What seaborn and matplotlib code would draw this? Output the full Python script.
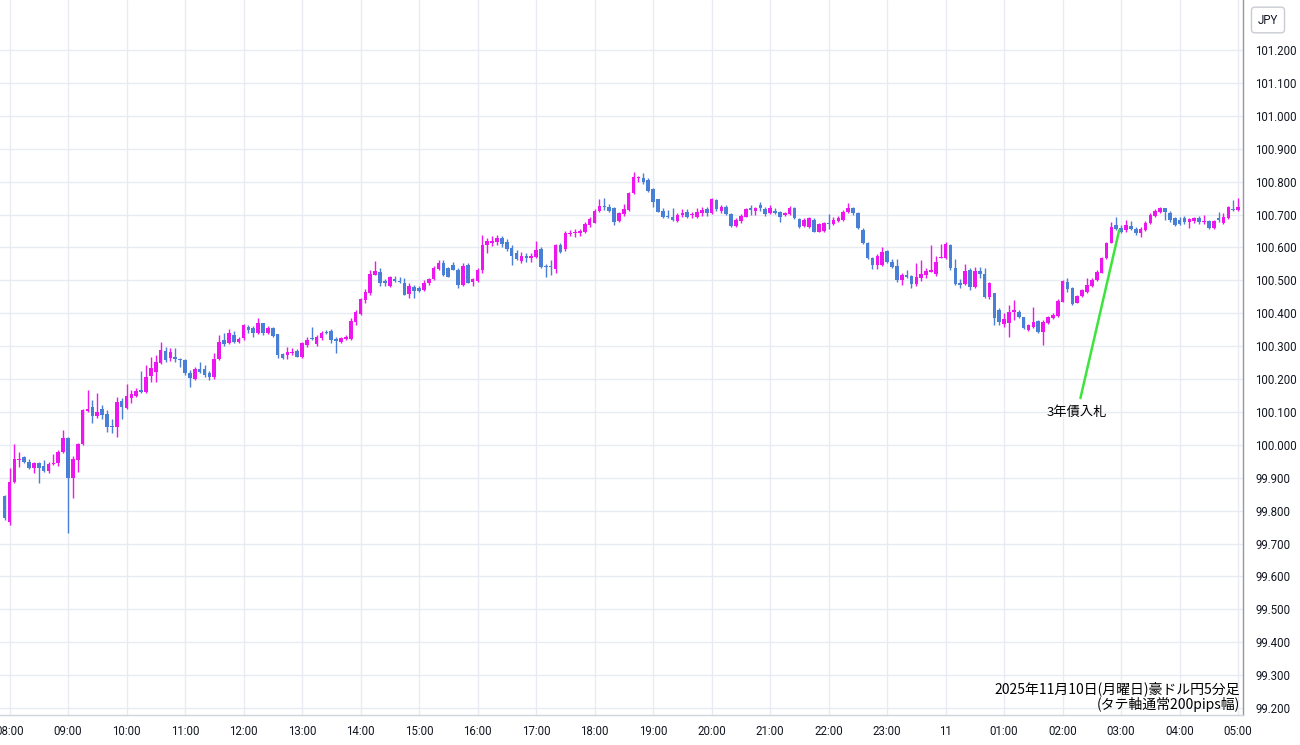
import matplotlib
matplotlib.use("Agg")
import matplotlib.pyplot as plt
import seaborn as sns
import numpy as np
import pandas as pd

# ---- data: AUD/JPY 5-minute candles, 2025-11-10 07:55 -> 2025-11-11 05:00 ----
open_ = [
    99.844, 99.766, 99.887, 99.954, 99.963, 99.948, 99.93, 99.945, 99.936, 99.92,
    99.942, 99.946, 99.978, 100.02, 99.9, 99.955, 100.003, 100.103, 100.115, 100.088,
    100.108, 100.094, 100.058, 100.055, 100.133, 100.112, 100.142, 100.148, 100.167, 100.16,
    100.209, 100.221, 100.249, 100.285, 100.264, 100.266, 100.261, 100.258, 100.218, 100.2,
    100.23, 100.23, 100.218, 100.206, 100.261, 100.318, 100.309, 100.334, 100.312, 100.325,
    100.358, 100.355, 100.34, 100.37, 100.34, 100.355, 100.337, 100.276, 100.273, 100.279,
    100.285, 100.267, 100.303, 100.324, 100.306, 100.325, 100.343, 100.346, 100.322, 100.313,
    100.322, 100.322, 100.373, 100.398, 100.44, 100.461, 100.516, 100.525, 100.498, 100.483,
    100.504, 100.498, 100.492, 100.458, 100.48, 100.477, 100.47, 100.492, 100.504, 100.534,
    100.552, 100.537, 100.546, 100.531, 100.486, 100.546, 100.495, 100.498, 100.531, 100.607,
    100.613, 100.616, 100.628, 100.616, 100.598, 100.583, 100.559, 100.572, 100.569, 100.571,
    100.595, 100.543, 100.543, 100.534, 100.607, 100.595, 100.641, 100.644, 100.644, 100.647,
    100.668, 100.674, 100.711, 100.726, 100.723, 100.72, 100.68, 100.701, 100.714, 100.765,
    100.81, 100.811, 100.805, 100.778, 100.747, 100.711, 100.695, 100.692, 100.68, 100.698,
    100.707, 100.698, 100.692, 100.704, 100.717, 100.704, 100.744, 100.711, 100.723, 100.701,
    100.665, 100.68, 100.692, 100.72, 100.711, 100.729, 100.717, 100.704, 100.711, 100.707,
    100.698, 100.701, 100.72, 100.686, 100.665, 100.662, 100.683, 100.647, 100.65, 100.674,
    100.671, 100.68, 100.683, 100.707, 100.72, 100.704, 100.653, 100.613, 100.568, 100.546,
    100.546, 100.589, 100.556, 100.543, 100.501, 100.516, 100.513, 100.489, 100.507, 100.516,
    100.525, 100.519, 100.568, 100.568, 100.607, 100.537, 100.492, 100.489, 100.531, 100.48,
    100.528, 100.519, 100.449, 100.461, 100.41, 100.367, 100.37, 100.403, 100.404, 100.388,
    100.349, 100.358, 100.376, 100.343, 100.37, 100.386, 100.392, 100.434, 100.495, 100.477,
    100.431, 100.452, 100.464, 100.483, 100.501, 100.522, 100.568, 100.613, 100.668, 100.659,
    100.653, 100.665, 100.656, 100.644, 100.653, 100.674, 100.695, 100.708, 100.72, 100.704,
    100.689, 100.683, 100.689, 100.677, 100.68, 100.689, 100.677, 100.68, 100.659, 100.689,
    100.674, 100.689, 100.717, 100.714,
]
high_ = [
    99.847, 99.93, 100.002, 99.978, 99.966, 99.957, 99.947, 99.947, 99.954, 99.947,
    99.972, 99.984, 100.045, 100.025, 99.966, 100.005, 100.108, 100.166, 100.136, 100.157,
    100.121, 100.106, 100.078, 100.145, 100.142, 100.185, 100.167, 100.172, 100.224, 100.243,
    100.267, 100.273, 100.312, 100.297, 100.294, 100.294, 100.264, 100.26, 100.227, 100.236,
    100.252, 100.243, 100.224, 100.279, 100.334, 100.34, 100.352, 100.346, 100.328, 100.367,
    100.364, 100.361, 100.385, 100.37, 100.361, 100.358, 100.337, 100.279, 100.297, 100.294,
    100.291, 100.312, 100.328, 100.358, 100.334, 100.346, 100.349, 100.352, 100.328, 100.328,
    100.334, 100.385, 100.41, 100.446, 100.474, 100.531, 100.559, 100.537, 100.504, 100.513,
    100.513, 100.51, 100.507, 100.492, 100.486, 100.483, 100.501, 100.507, 100.544, 100.562,
    100.562, 100.54, 100.556, 100.537, 100.553, 100.553, 100.507, 100.537, 100.638, 100.628,
    100.634, 100.638, 100.634, 100.625, 100.607, 100.592, 100.586, 100.583, 100.583, 100.619,
    100.601, 100.549, 100.562, 100.61, 100.613, 100.65, 100.653, 100.656, 100.656, 100.677,
    100.692, 100.717, 100.747, 100.75, 100.732, 100.723, 100.707, 100.732, 100.768, 100.829,
    100.817, 100.826, 100.811, 100.781, 100.747, 100.72, 100.714, 100.72, 100.704, 100.717,
    100.717, 100.707, 100.72, 100.723, 100.723, 100.75, 100.747, 100.729, 100.729, 100.704,
    100.689, 100.701, 100.72, 100.729, 100.723, 100.738, 100.723, 100.729, 100.72, 100.711,
    100.707, 100.726, 100.723, 100.689, 100.689, 100.692, 100.689, 100.674, 100.677, 100.701,
    100.692, 100.695, 100.714, 100.735, 100.723, 100.707, 100.659, 100.616, 100.571, 100.58,
    100.601, 100.592, 100.565, 100.565, 100.522, 100.531, 100.516, 100.553, 100.562, 100.537,
    100.607, 100.574, 100.61, 100.616, 100.61, 100.565, 100.504, 100.55, 100.537, 100.54,
    100.54, 100.537, 100.495, 100.461, 100.416, 100.4, 100.425, 100.44, 100.41, 100.388,
    100.367, 100.419, 100.379, 100.379, 100.392, 100.401, 100.443, 100.501, 100.507, 100.48,
    100.455, 100.474, 100.507, 100.507, 100.531, 100.571, 100.616, 100.677, 100.692, 100.668,
    100.683, 100.68, 100.662, 100.662, 100.68, 100.704, 100.717, 100.723, 100.72, 100.71,
    100.692, 100.692, 100.695, 100.689, 100.692, 100.695, 100.698, 100.683, 100.683, 100.707,
    100.704, 100.726, 100.744, 100.75,
]
low_ = [
    99.771, 99.756, 99.885, 99.932, 99.945, 99.927, 99.915, 99.884, 99.917, 99.915,
    99.939, 99.935, 99.976, 99.732, 99.838, 99.917, 100.0, 100.1, 100.066, 100.082,
    100.08, 100.039, 100.036, 100.024, 100.08, 100.109, 100.127, 100.145, 100.157, 100.157,
    100.19, 100.19, 100.247, 100.252, 100.255, 100.252, 100.237, 100.212, 100.176, 100.197,
    100.218, 100.206, 100.197, 100.2, 100.258, 100.3, 100.306, 100.31, 100.31, 100.318,
    100.34, 100.328, 100.337, 100.334, 100.337, 100.328, 100.264, 100.26, 100.26, 100.273,
    100.267, 100.264, 100.297, 100.318, 100.3, 100.319, 100.337, 100.309, 100.279, 100.31,
    100.319, 100.319, 100.364, 100.395, 100.431, 100.455, 100.516, 100.483, 100.483, 100.48,
    100.495, 100.492, 100.455, 100.446, 100.446, 100.464, 100.467, 100.486, 100.501, 100.531,
    100.513, 100.51, 100.531, 100.477, 100.483, 100.492, 100.483, 100.495, 100.522, 100.583,
    100.604, 100.607, 100.601, 100.589, 100.546, 100.562, 100.553, 100.556, 100.556, 100.568,
    100.537, 100.51, 100.516, 100.522, 100.583, 100.589, 100.634, 100.631, 100.634, 100.644,
    100.662, 100.674, 100.708, 100.714, 100.708, 100.668, 100.677, 100.695, 100.711, 100.762,
    100.8, 100.793, 100.768, 100.723, 100.708, 100.689, 100.689, 100.68, 100.677, 100.692,
    100.689, 100.689, 100.689, 100.695, 100.695, 100.701, 100.711, 100.704, 100.698, 100.662,
    100.662, 100.674, 100.692, 100.698, 100.698, 100.711, 100.695, 100.701, 100.701, 100.677,
    100.695, 100.698, 100.686, 100.659, 100.662, 100.659, 100.647, 100.647, 100.647, 100.656,
    100.668, 100.677, 100.68, 100.704, 100.698, 100.656, 100.61, 100.565, 100.534, 100.534,
    100.543, 100.553, 100.537, 100.495, 100.486, 100.507, 100.477, 100.483, 100.498, 100.507,
    100.525, 100.513, 100.568, 100.565, 100.531, 100.486, 100.477, 100.486, 100.471, 100.477,
    100.507, 100.446, 100.443, 100.364, 100.364, 100.358, 100.328, 100.379, 100.385, 100.352,
    100.346, 100.355, 100.34, 100.303, 100.367, 100.382, 100.389, 100.434, 100.464, 100.425,
    100.431, 100.449, 100.461, 100.48, 100.498, 100.522, 100.565, 100.613, 100.653, 100.644,
    100.647, 100.653, 100.638, 100.632, 100.65, 100.671, 100.692, 100.705, 100.683, 100.677,
    100.665, 100.668, 100.671, 100.659, 100.674, 100.671, 100.671, 100.656, 100.656, 100.677,
    100.671, 100.686, 100.711, 100.711,
]
close_ = [
    99.778, 99.887, 99.957, 99.958, 99.948, 99.93, 99.945, 99.93, 99.92, 99.942,
    99.946, 99.978, 100.02, 99.9, 99.957, 100.003, 100.106, 100.11, 100.088, 100.1,
    100.09, 100.054, 100.055, 100.13, 100.115, 100.15, 100.155, 100.163, 100.16, 100.206,
    100.233, 100.252, 100.288, 100.258, 100.282, 100.262, 100.258, 100.218, 100.203, 100.23,
    100.221, 100.212, 100.206, 100.261, 100.312, 100.306, 100.34, 100.312, 100.322, 100.364,
    100.349, 100.34, 100.37, 100.34, 100.355, 100.33, 100.273, 100.264, 100.282, 100.282,
    100.267, 100.309, 100.318, 100.321, 100.328, 100.34, 100.34, 100.318, 100.315, 100.325,
    100.328, 100.376, 100.404, 100.443, 100.465, 100.519, 100.528, 100.492, 100.492, 100.51,
    100.498, 100.495, 100.455, 100.483, 100.468, 100.468, 100.492, 100.504, 100.538, 100.552,
    100.516, 100.51, 100.531, 100.486, 100.543, 100.492, 100.504, 100.531, 100.607, 100.619,
    100.619, 100.628, 100.61, 100.595, 100.574, 100.565, 100.574, 100.569, 100.574, 100.592,
    100.54, 100.54, 100.54, 100.607, 100.586, 100.644, 100.644, 100.647, 100.65, 100.671,
    100.686, 100.711, 100.726, 100.723, 100.711, 100.677, 100.704, 100.717, 100.765, 100.814,
    100.811, 100.799, 100.771, 100.738, 100.708, 100.692, 100.692, 100.683, 100.698, 100.704,
    100.692, 100.701, 100.707, 100.714, 100.704, 100.747, 100.717, 100.723, 100.701, 100.665,
    100.683, 100.695, 100.717, 100.714, 100.72, 100.72, 100.701, 100.72, 100.704, 100.692,
    100.704, 100.72, 100.689, 100.662, 100.683, 100.689, 100.647, 100.671, 100.674, 100.671,
    100.683, 100.689, 100.707, 100.72, 100.704, 100.659, 100.613, 100.568, 100.546, 100.574,
    100.586, 100.556, 100.54, 100.501, 100.516, 100.51, 100.489, 100.51, 100.519, 100.528,
    100.531, 100.556, 100.571, 100.61, 100.537, 100.489, 100.486, 100.528, 100.48, 100.528,
    100.519, 100.449, 100.492, 100.385, 100.373, 100.382, 100.403, 100.41, 100.388, 100.355,
    100.364, 100.373, 100.343, 100.373, 100.388, 100.395, 100.437, 100.498, 100.474, 100.428,
    100.452, 100.471, 100.486, 100.501, 100.525, 100.568, 100.613, 100.662, 100.656, 100.647,
    100.668, 100.656, 100.644, 100.656, 100.674, 100.698, 100.711, 100.72, 100.708, 100.683,
    100.668, 100.671, 100.677, 100.686, 100.689, 100.677, 100.68, 100.659, 100.68, 100.683,
    100.692, 100.723, 100.714, 100.723,
]
x_tick_labels = ["08:00", "09:00", "10:00", "11:00", "12:00", "13:00", "14:00", "15:00",
                 "16:00", "17:00", "18:00", "19:00", "20:00", "21:00", "22:00", "23:00",
                 "11", "01:00", "02:00", "03:00", "04:00", "05:00"]
y_ticks = [99.2, 99.3, 99.4, 99.5, 99.6, 99.7, 99.8, 99.9, 100.0, 100.1, 100.2, 100.3,
           100.4, 100.5, 100.6, 100.7, 100.8, 100.9, 101.0, 101.1, 101.2]
title_lines = ["2025年11月10日(月曜日)豪ドル円5分足", "(タテ軸通常200pips幅)"]
annotation_text = "3年債入札"
currency_label = "JPY"

times = pd.date_range("2025-11-10 07:55", periods=len(open_), freq="5min")
df = pd.DataFrame({"time": times, "open": open_, "high": high_, "low": low_, "close": close_})
# bar position: 5-minute steps counted from 08:00
df["pos"] = ((df["time"] - pd.Timestamp("2025-11-10 08:00")).dt.total_seconds() / 300.0)
df["up"] = df["close"] >= df["open"]

UP = "#ee16ee"
DOWN = "#4a7fd6"
GRID = "#e8ebf1"

sns.set_theme(style="white")
plt.rcParams["font.family"] = ["Roboto", "Noto Sans CJK JP", "DejaVu Sans"]

fig = plt.figure(figsize=(13, 7.45), dpi=100)
ax = fig.add_axes([0.0, 30 / 745, 1243 / 1300, 715 / 745])
ax.set_facecolor("white")

colors = np.where(df["up"], UP, DOWN)
# wicks
ax.vlines(df["pos"], df["low"], df["high"], colors=colors, linewidth=1.0, zorder=3)
# bodies
body_bottom = np.minimum(df["open"], df["close"])
body_h = np.maximum(np.abs(df["close"] - df["open"]), 0.0035)
ax.bar(df["pos"], body_h, bottom=body_bottom, width=0.74, color=colors,
       linewidth=0, zorder=4)

ax.set_xlim(-1.95, 253.0)
ax.set_ylim(99.179, 101.352)

hour_pos = np.arange(0, 12 * len(x_tick_labels), 12)
ax.set_xticks(hour_pos)
ax.set_xticklabels(x_tick_labels)
ax.set_yticks(y_ticks)
ax.set_yticklabels([f"{v:.3f}" for v in y_ticks])
ax.yaxis.tick_right()
ax.tick_params(axis="y", length=0, pad=9, labelsize=8.3, colors="#131722")
ax.tick_params(axis="x", length=0, pad=7, labelsize=8.3, colors="#131722")

ax.grid(True, color=GRID, linewidth=1.0, zorder=0)
ax.set_axisbelow(True)
for side in ["top", "left"]:
    ax.spines[side].set_visible(False)
ax.spines["right"].set_color("#9598a1")
ax.spines["bottom"].set_color("#d1d4dc")
ax.spines["right"].set_linewidth(1.0)
ax.spines["bottom"].set_linewidth(1.0)

# annotation
ax.annotate(annotation_text, xy=(227.6, 100.652), xytext=(219.0, 100.1),
            ha="center", va="center", fontsize=9.5, color="#000000",
            family=["Noto Sans CJK JP", "DejaVu Sans"],
            arrowprops=dict(arrowstyle="-", color="#3de43d", lw=1.8,
                            shrinkA=3, shrinkB=0), zorder=6)

# caption bottom-right
fig.text(1240 / 1300, 1 - 689 / 745, title_lines[0], ha="right", va="center",
         fontsize=10, color="#000000", family=["Noto Sans CJK JP", "DejaVu Sans"])
fig.text(1240 / 1300, 1 - 704 / 745, title_lines[1], ha="right", va="center",
         fontsize=10, color="#000000", family=["Noto Sans CJK JP", "DejaVu Sans"])

# currency box top-right
fig.text(1268 / 1300, 1 - 20 / 745, currency_label, ha="center", va="center",
         fontsize=8.3, color="#131722",
         bbox=dict(boxstyle="round,pad=0.55,rounding_size=0.3", fc="white",
                   ec="#c9ccd3", lw=1.0))

fig.savefig("out.png", dpi=100, facecolor="white")
